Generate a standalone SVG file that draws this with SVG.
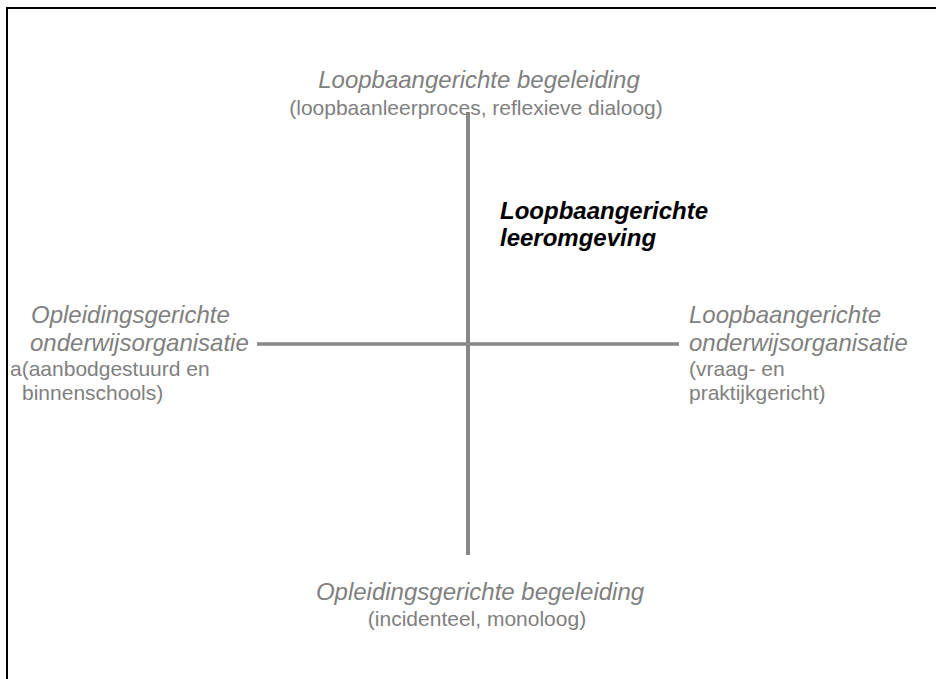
<svg xmlns="http://www.w3.org/2000/svg" width="936" height="679" viewBox="0 0 936 679">
<style>
text{font-family:"Liberation Sans",Arial,sans-serif;fill:#808080}
.it{font-style:italic;font-size:24px}
.n{font-size:21px}
.b{font-style:italic;font-weight:bold;font-size:24px;fill:#000}
.ax{stroke:#888;fill:none}
</style>
<rect x="0" y="0" width="936" height="679" fill="#fff"/>
<rect x="7" y="8" width="960" height="700" fill="none" stroke="#000" stroke-width="2"/>
<g id="connectors">
<line class="ax" x1="468" y1="112" x2="468" y2="555" stroke-width="4"/>
<line class="ax" x1="257" y1="344" x2="679" y2="344" stroke-width="3.5"/>
</g>
<g id="top">
<text class="it" x="479" y="88" text-anchor="middle">Loopbaangerichte begeleiding</text>
<text class="n" x="476" y="115" text-anchor="middle">(loopbaanleerproces, reflexieve dialoog)</text>
</g>
<g id="bottom">
<text class="it" x="480" y="600" text-anchor="middle">Opleidingsgerichte begeleiding</text>
<text class="n" x="477" y="626" text-anchor="middle">(incidenteel, monoloog)</text>
</g>
<g id="left">
<text class="it" x="31" y="323">Opleidingsgerichte</text>
<text class="it" x="30" y="351">onderwijsorganisatie</text>
<text class="n" x="10" y="376">a(aanbodgestuurd en</text>
<text class="n" x="22" y="400">binnenschools)</text>
</g>
<g id="right">
<text class="it" x="689" y="323">Loopbaangerichte</text>
<text class="it" x="689" y="351">onderwijsorganisatie</text>
<text class="n" x="689" y="376">(vraag- en</text>
<text class="n" x="689" y="400">praktijkgericht)</text>
</g>
<g id="center">
<text class="b" x="500" y="219">Loopbaangerichte</text>
<text class="b" x="500" y="246">leeromgeving</text>
</g>
</svg>
